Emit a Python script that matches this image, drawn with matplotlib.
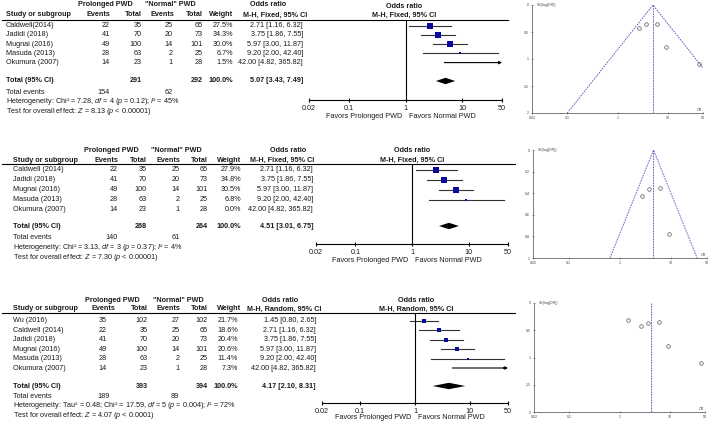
import numpy as np
import matplotlib
matplotlib.use("Agg")
import matplotlib.pyplot as plt
from matplotlib.patches import Polygon

plt.rcParams['font.family'] = ['Liberation Sans', 'DejaVu Sans']
plt.rcParams['mathtext.fontset'] = 'custom'
plt.rcParams['mathtext.rm'] = 'Liberation Sans'
plt.rcParams['mathtext.it'] = 'Liberation Sans:italic'
plt.rcParams['mathtext.bf'] = 'Liberation Sans:bold'

# ---------------- DATA ----------------
# Panel A: fixed effect, 5 studies
studies_a = ["Caldwell(2014)", "Jadidi (2018)", "Mugnai (2016)", "Masuda (2013)", "Okumura (2007)"]
events_prol_a = [22, 41, 49, 28, 14]
total_prol_a = [35, 70, 100, 63, 23]
events_norm_a = [25, 20, 14, 2, 1]
total_norm_a = [65, 73, 101, 25, 28]
weight_a = [27.5, 34.3, 30.0, 6.7, 1.5]
or_a = [2.71, 3.75, 5.97, 9.20, 42.00]
lo_a = [1.16, 1.86, 3.00, 2.00, 4.82]
hi_a = [6.32, 7.55, 11.87, 42.40, 365.82]
se_a = [0.43, 0.36, 0.35, 0.78, 1.10]
pooled_a = [5.07, 3.43, 7.49]
totals_a = [291, 292]
total_events_a = [154, 62]
het_a = "Heterogeneity: Chi² = 7.28, $df$ = 4 ($p$ = 0.12); $I$² = 45%"
test_a = "Test for overall effect: $Z$ = 8.13 ($p$ < 0.00001)"

# Panel B: fixed effect, Okumura weight 0
studies_b = ["Caldwell (2014)", "Jadidi (2018)", "Mugnai (2016)", "Masuda (2013)", "Okumura (2007)"]
events_prol_b = [22, 41, 49, 28, 14]
total_prol_b = [35, 70, 100, 63, 23]
events_norm_b = [25, 20, 14, 2, 1]
total_norm_b = [65, 73, 101, 25, 28]
weight_b = [27.9, 34.8, 30.5, 6.8, 0.0]
or_b = [2.71, 3.75, 5.97, 9.20, 42.00]
lo_b = [1.16, 1.86, 3.00, 2.00, 4.82]
hi_b = [6.32, 7.55, 11.87, 42.40, 365.82]
se_b = [0.43, 0.36, 0.35, 0.78, 1.10]
pooled_b = [4.51, 3.01, 6.75]
totals_b = [268, 264]
total_events_b = [140, 61]
het_b = "Heterogeneity: Chi² = 3.13, $df$ = 3 ($p$ = 0.37); $I$² = 4%"
test_b = "Test for overall effect: $Z$ = 7.30 ($p$ < 0.00001)"

# Panel C: random effects, 6 studies
studies_c = ["Wu (2016)", "Caldwell (2014)", "Jadidi (2018)", "Mugnai (2016)", "Masuda (2013)", "Okumura (2007)"]
events_prol_c = [35, 22, 41, 49, 28, 14]
total_prol_c = [102, 35, 70, 100, 63, 23]
events_norm_c = [27, 25, 20, 14, 2, 1]
total_norm_c = [102, 65, 73, 101, 25, 28]
weight_c = [21.7, 18.6, 20.4, 20.6, 11.4, 7.3]
or_c = [1.45, 2.71, 3.75, 5.97, 9.20, 42.00]
lo_c = [0.80, 1.16, 1.86, 3.00, 2.00, 4.82]
hi_c = [2.65, 6.32, 7.55, 11.87, 42.40, 365.82]
se_c = [0.31, 0.43, 0.36, 0.35, 0.78, 1.10]
pooled_c = [4.17, 2.10, 8.31]
totals_c = [393, 394]
total_events_c = [189, 89]
het_c = "Heterogeneity: Tau² = 0.48; Chi² = 17.59, $df$ = 5 ($p$ = 0.004); $I$² = 72%"
test_c = "Test for overall effect: $Z$ = 4.07 ($p$ < 0.0001)"

tick_vals = [0.02, 0.1, 1, 10, 50]
tick_labels = ["0.02", "0.1", "1", "10", "50"]

# ---------------- STYLE / LAYOUT ----------------
W, H = 709, 422
FS = 5.2
TXT = '#1a1a1a'
BLUE = '#0a0a9a'
FUN = '#4a4ac8'

fig = plt.figure(figsize=(W / 100, H / 100), dpi=100)
bg = fig.add_axes([0, 0, 1, 1])
bg.set_xlim(0, W)
bg.set_ylim(H, 0)
bg.axis('off')


def px_axes(x0, y0, x1, y1):
    return fig.add_axes([x0 / W, 1 - y1 / H, (x1 - x0) / W, (y1 - y0) / H])


def t(x, y, s, ha='left', bold=False, **kw):
    bg.text(x, y, s, ha=ha, va='center', fontsize=FS, color=TXT,
            fontweight='bold' if bold else 'normal', **kw)


def draw_panel(d, L):
    # table header
    y1, y2 = L['hy1'], L['hy2']
    t(L['grp'][0], y1, "Prolonged PWD", ha='center', bold=True)
    t(L['grp'][1], y1, '"Normal" PWD', ha='center', bold=True)
    t(L['grp'][2], y1, "Odds ratio", ha='center', bold=True)
    t(L['grp'][3], y2, d['method'], ha='center', bold=True)
    t(L['name_x'], y2, "Study or subgroup", bold=True)
    for lab, x in zip(["Events", "Total", "Events", "Total", "Weight"], L['hcols']):
        t(x, y2, lab, ha='right', bold=True)
    bg.plot([L['line_x0'], L['line_x1']], [L['line_y'], L['line_y']], color='black', lw=0.8)

    c = L['cols']
    rows = [L['row0'] + i * L['step'] for i in range(len(d['studies']))]
    for i, y in enumerate(rows):
        t(L['name_x'], y, d['studies'][i])
        t(c[0], y, str(d['ep'][i]), ha='right')
        t(c[1], y, str(d['tp'][i]), ha='right')
        t(c[2], y, str(d['en'][i]), ha='right')
        t(c[3], y, str(d['tn'][i]), ha='right')
        t(c[4], y, f"{d['w'][i]:.1f}%", ha='right')
        t(c[5], y, f"{d['or'][i]:.2f} [{d['lo'][i]:.2f}, {d['hi'][i]:.2f}]", ha='right')
    ty = L['total_y']
    pe, pl, ph = d['pooled']
    t(L['name_x'], ty, "Total (95% CI)", bold=True)
    t(c[1], ty, str(d['totals'][0]), ha='right', bold=True)
    t(c[3], ty, str(d['totals'][1]), ha='right', bold=True)
    t(c[4], ty, "100.0%", ha='right', bold=True)
    t(c[5], ty, f"{pe:.2f} [{pl:.2f}, {ph:.2f}]", ha='right', bold=True)
    t(L['name_x'], L['ev_y'], "Total events")
    t(L['evcols'][0], L['ev_y'], str(d['tev'][0]), ha='right')
    t(L['evcols'][1], L['ev_y'], str(d['tev'][1]), ha='right')
    t(L['name_x'], L['het_y'], d['het'])
    t(L['name_x'], L['test_y'], d['test'])

    # forest plot
    fx0, fx1 = L['fx']
    ay = L['axis_y']
    ax = px_axes(fx0, L['line_y'], fx1, ay)
    ax.set_xscale('log')
    ax.set_xlim(0.02, 50)
    ax.set_ylim(ay, L['line_y'])
    ax.patch.set_alpha(0)
    for s in ['top', 'left', 'right']:
        ax.spines[s].set_visible(False)
    ax.spines['bottom'].set_linewidth(0.8)
    ax.set_yticks([])
    ax.set_xticks(tick_vals)
    ax.set_xticklabels(tick_labels, fontsize=FS, color=TXT)
    ax.minorticks_off()
    ax.tick_params(axis='x', direction='inout', length=3.5, width=0.8, pad=2.2)
    ax.axvline(1, color='black', lw=0.8)
    bg.text(L['fhx'], y1 + 1, "Odds ratio", ha='center', va='center', fontsize=FS, fontweight='bold', color=TXT)
    bg.text(L['fhx'], y2, d['method'], ha='center', va='center', fontsize=FS, fontweight='bold', color=TXT)
    ax.annotate("Favors Prolonged PWD", xy=(1, ay + L['fav_dy']), xytext=(-2.5, 0), textcoords='offset points',
                ha='right', va='center', fontsize=FS, color=TXT, annotation_clip=False)
    ax.annotate("Favors Normal PWD", xy=(1, ay + L['fav_dy']), xytext=(2.5, 0), textcoords='offset points',
                ha='left', va='center', fontsize=FS, color=TXT, annotation_clip=False)
    for i, y in enumerate(rows):
        if d['w'][i] <= 0:
            continue
        hi = min(d['hi'][i], 50)
        if d['hi'][i] > 50:
            ax.annotate('', xy=(hi, y), xytext=(d['lo'][i], y), annotation_clip=False,
                        arrowprops=dict(arrowstyle='-|>', color='black', lw=0.8,
                                        mutation_scale=4, shrinkA=0, shrinkB=0))
        else:
            ax.plot([d['lo'][i], hi], [y, y], color='#333333', lw=0.8, clip_on=False)
        side = L['box_k'] * np.sqrt(d['w'][i]) * 0.72
        ax.plot(d['or'][i], y, marker='s', ms=max(side, 0.8), color=BLUE, mew=0, clip_on=False)
    ax.add_patch(Polygon([(pl, ty), (pe, ty - 3.2), (ph, ty), (pe, ty + 3.2)],
                         closed=True, color='black', lw=0))

    # funnel plot
    gx0, gx1 = L['gx']
    gy0, gy1 = L['gy']
    fa = px_axes(gx0, gy0, gx1, gy1)
    fa.set_xscale('log')
    fa.set_xlim(0.02, 50)
    ymax = L['ymax']
    fa.set_ylim(ymax, 0)
    fa.patch.set_alpha(0)
    for s in ['top', 'right']:
        fa.spines[s].set_visible(False)
    for s in ['left', 'bottom']:
        fa.spines[s].set_color('#666666')
        fa.spines[s].set_linewidth(0.6)
    fa.set_xticks(tick_vals)
    fa.set_xticklabels(tick_labels, fontsize=2.6, color='#444444')
    fa.minorticks_off()
    fa.set_yticks(L['yticks'])
    fa.set_yticklabels(L['yticklabels'], fontsize=2.6, color='#444444')
    fa.tick_params(direction='inout', length=2, width=0.5, pad=1, colors='#666666', labelcolor='#444444')
    fa.text(0.03, 1.0, "SE(log[OR])", transform=fa.transAxes, ha='left', va='center',
            fontsize=2.6, color='#444444')
    fa.text(0.995, 0.012, "OR", transform=fa.transAxes, ha='right', va='bottom',
            fontsize=2.6, color='#444444')
    if L['triangle']:
        fa.plot([pe * np.exp(-1.96 * ymax), pe, pe * np.exp(1.96 * ymax)], [ymax, 0, ymax],
                color=FUN, lw=0.6, ls=(0, (2, 1.2)))
    fa.plot([pe, pe], [0, ymax], color=FUN, lw=0.6, ls=(0, (2, 1.2)))
    m = [i for i in range(len(d['or'])) if d['w'][i] > 0]
    fa.plot([d['or'][i] for i in m], [d['se'][i] for i in m], 'o', mfc='none', mec='#555555',
            ms=2.6, mew=0.5, clip_on=False)


panel_a = dict(studies=studies_a, ep=events_prol_a, tp=total_prol_a, en=events_norm_a, tn=total_norm_a,
               w=weight_a, lo=lo_a, hi=hi_a, se=se_a, pooled=pooled_a, totals=totals_a,
               tev=total_events_a, het=het_a, test=test_a, method="M-H, Fixed, 95% CI")
panel_a['or'] = or_a
panel_b = dict(studies=studies_b, ep=events_prol_b, tp=total_prol_b, en=events_norm_b, tn=total_norm_b,
               w=weight_b, lo=lo_b, hi=hi_b, se=se_b, pooled=pooled_b, totals=totals_b,
               tev=total_events_b, het=het_b, test=test_b, method="M-H, Fixed, 95% CI")
panel_b['or'] = or_b
panel_c = dict(studies=studies_c, ep=events_prol_c, tp=total_prol_c, en=events_norm_c, tn=total_norm_c,
               w=weight_c, lo=lo_c, hi=hi_c, se=se_c, pooled=pooled_c, totals=totals_c,
               tev=total_events_c, het=het_c, test=test_c, method="M-H, Random, 95% CI")
panel_c['or'] = or_c

layout_a = dict(name_x=6, cols=[110, 142, 173, 203, 233, 303], hcols=[110, 142, 174, 203, 233],
                evcols=[110, 173], grp=[105, 170, 268, 275], hy1=5, hy2=15, line_y=20,
                line_x0=2, line_x1=508, row0=25.8, step=9.2, total_y=81, ev_y=92, het_y=101.3,
                test_y=111.3, fx=(309, 502), axis_y=100, fhx=404, box_k=1.0, fav_dy=17,
                gx=(532, 703), gy=(5, 113), ymax=2, yticks=[0, 0.5, 1, 1.5, 2],
                yticklabels=["0", "0.5", "1", "1.5", "2"], triangle=True)
layout_b = dict(name_x=13, cols=[118, 147, 180, 208, 241, 313], hcols=[118, 147, 180, 208, 241],
                evcols=[118, 180], grp=[111, 176, 288, 282], hy1=150, hy2=160, line_y=164,
                line_x0=2, line_x1=515, row0=169.5, step=10.1, total_y=226, ev_y=237.5, het_y=247.5,
                test_y=257.5, fx=(316, 508), axis_y=244, fhx=412, box_k=1.0, fav_dy=16,
                gx=(533, 707), gy=(150, 258), ymax=1, yticks=[0, 0.2, 0.4, 0.6, 0.8, 1],
                yticklabels=["0", "0.2", "0.4", "0.6", "0.8", "1"], triangle=True)
layout_c = dict(name_x=13, cols=[107, 148, 180, 208, 238, 316], hcols=[115, 148, 180, 208, 241],
                evcols=[110, 179], grp=[112, 178, 280, 284], hy1=300, hy2=309, line_y=313,
                line_x0=2, line_x1=515, row0=321, step=9.4, total_y=386, ev_y=396, het_y=405.3,
                test_y=415.3, fx=(322, 508), axis_y=403, fhx=416, box_k=0.82, fav_dy=14.5,
                gx=(534, 705), gy=(303, 412), ymax=2, yticks=[0, 0.5, 1, 1.5, 2],
                yticklabels=["0", "0.5", "1", "1.5", "2"], triangle=False)

draw_panel(panel_a, layout_a)
draw_panel(panel_b, layout_b)
draw_panel(panel_c, layout_c)

fig.savefig("out.png", dpi=100)
